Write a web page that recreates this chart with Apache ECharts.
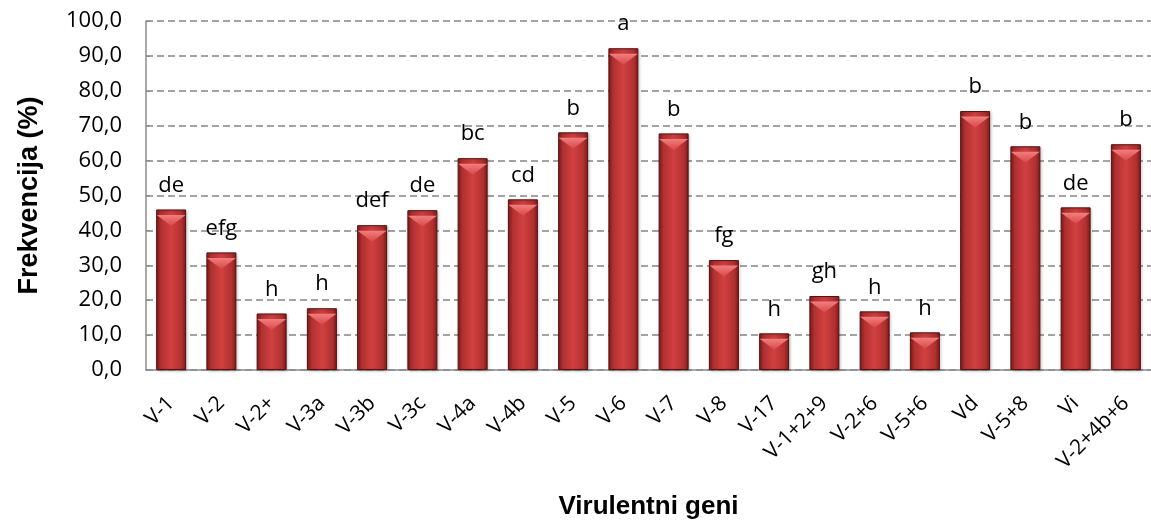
<!DOCTYPE html>
<html>
<head>
<meta charset="utf-8">
<script src="https://cdn.jsdelivr.net/npm/echarts@6/dist/echarts.min.js"></script>
<style>
  html, body { margin: 0; padding: 0; background: #fff; overflow: hidden; }
  #chart { width: 1151px; height: 527px; }
</style>
</head>
<body>
<div id="chart"></div>
<script>
// kategorije (virulentni geni)
const categories = ['V-1', 'V-2', 'V-2+', 'V-3a', 'V-3b', 'V-3c', 'V-4a', 'V-4b', 'V-5', 'V-6',
  'V-7', 'V-8', 'V-17', 'V-1+2+9', 'V-2+6', 'V-5+6', 'Vd', 'V-5+8', 'Vi', 'V-2+4b+6'];
// frekvencija (%)
const frequency = [46.0, 33.7, 16.2, 17.7, 41.5, 45.8, 60.7, 48.9, 68.1, 92.2,
  67.8, 31.5, 10.5, 21.2, 16.8, 10.8, 74.2, 64.1, 46.6, 64.7];
// oznake znacajnosti
const letters = ['de', 'efg', 'h', 'h', 'def', 'de', 'bc', 'cd', 'b', 'a',
  'b', 'fg', 'h', 'gh', 'h', 'h', 'b', 'b', 'de', 'b'];
const yTicks = { min: 0, max: 100, interval: 10 };

const chart = echarts.init(document.getElementById('chart'));

const barFill = new echarts.graphic.LinearGradient(0, 0, 1, 0, [
  { offset: 0, color: '#7e1c1c' },
  { offset: 0.15, color: '#b03030' },
  { offset: 0.5, color: '#d24040' },
  { offset: 0.85, color: '#b03030' },
  { offset: 1, color: '#7a1a1a' }
]);

// plot se u originalu nastavlja malo preko desnog ruba slike
chart.setOption({
  animation: false,
  grid: { left: 146, right: -11, top: 21, bottom: 157 },
  xAxis: {
    type: 'category',
    data: categories,
    name: 'Virulentni geni',
    nameLocation: 'middle',
    nameGap: 124,
    nameTextStyle: { fontFamily: 'Liberation Sans, Arial', fontWeight: 'bold', fontSize: 26, color: '#000' },
    axisLine: { lineStyle: { color: '#8c8c8c', width: 1.5 } },
    axisTick: { show: false },
    axisLabel: {
      rotate: 45,
      interval: 0,
      margin: 30,
      fontFamily: 'Open Sans',
      fontSize: 21,
      color: '#000'
    }
  },
  yAxis: {
    type: 'value',
    min: yTicks.min,
    max: yTicks.max,
    interval: yTicks.interval,
    name: 'Frekvencija (%)',
    nameLocation: 'middle',
    nameGap: 103,
    nameRotate: 90,
    nameTextStyle: { fontFamily: 'Liberation Sans, Arial', fontWeight: 'bold', fontSize: 27, color: '#000' },
    axisLine: { show: true, lineStyle: { color: '#8c8c8c', width: 1.5 } },
    axisTick: { show: true, inside: true, length: 4, lineStyle: { color: '#8c8c8c' } },
    axisLabel: {
      margin: 24,
      fontFamily: 'Open Sans',
      fontSize: 22,
      color: '#000',
      formatter: v => v.toFixed(1).replace('.', ',')
    },
    splitLine: { lineStyle: { color: '#858585', width: 1.5, type: [7, 4] } }
  },
  series: [
    {
      type: 'bar',
      data: frequency,
      barWidth: 30,
      itemStyle: {
        color: barFill,
        borderColor: '#5a1010',
        borderWidth: 1,
        shadowColor: 'rgba(0,0,0,0.25)',
        shadowBlur: 3,
        shadowOffsetX: 1,
        shadowOffsetY: 1
      },
      label: {
        show: true,
        position: 'top',
        distance: 13,
        fontFamily: 'Open Sans',
        fontSize: 22,
        color: '#000',
        formatter: p => letters[p.dataIndex]
      },
      z: 2
    },
    {
      // svijetli rub na vrhu stupca
      type: 'pictorialBar',
      data: frequency,
      symbol: 'path://M0,0 L30,0 L15,10 Z',
      symbolSize: [29, 11],
      symbolPosition: 'end',
      symbolOffset: [0, '50%'],
      itemStyle: {
        color: new echarts.graphic.LinearGradient(0, 0, 0, 1, [
          { offset: 0, color: '#f27e7e' },
          { offset: 1, color: '#d84848' }
        ])
      },
      z: 3,
      silent: true
    }
  ]
});
</script>
</body>
</html>
